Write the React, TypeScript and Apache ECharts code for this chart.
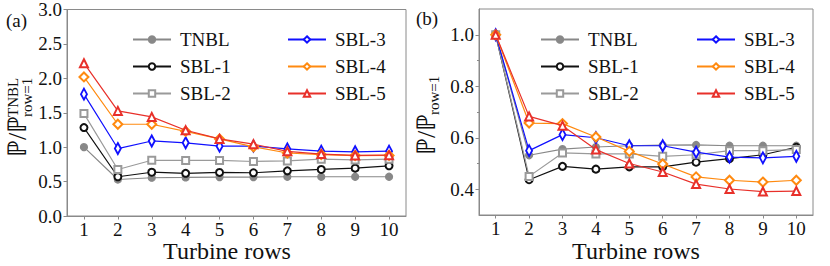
import React, { useEffect, useRef } from "react";
import * as echarts from "echarts";

const rows = ["1", "2", "3", "4", "5", "6", "7", "8", "9", "10"];

// Panel (a): P / P^TNBL_{row=1}
const tnblA = [1.0, 0.53, 0.556, 0.56, 0.565, 0.565, 0.57, 0.57, 0.57, 0.57];
const sbl1A = [1.285, 0.57, 0.636, 0.62, 0.633, 0.628, 0.656, 0.676, 0.695, 0.729];
const sbl2A = [1.488, 0.676, 0.81, 0.808, 0.808, 0.792, 0.8, 0.826, 0.815, 0.826];
const sbl3A = [1.77, 0.98, 1.09, 1.063, 1.015, 1.015, 0.975, 0.942, 0.933, 0.942];
const sbl4A = [2.02, 1.333, 1.333, 1.23, 1.12, 1.005, 0.915, 0.893, 0.878, 0.88];
const sbl5A = [2.22, 1.527, 1.44, 1.246, 1.12, 1.044, 0.94, 0.899, 0.88, 0.884];

// Panel (b): P / P_{row=1}
const tnblB = [1.0, 0.532, 0.556, 0.564, 0.569, 0.571, 0.572, 0.569, 0.569, 0.569];
const sbl1B = [1.0, 0.437, 0.489, 0.478, 0.487, 0.487, 0.505, 0.519, 0.534, 0.563];
const sbl2B = [1.0, 0.45, 0.541, 0.537, 0.537, 0.528, 0.534, 0.55, 0.55, 0.554];
const sbl3B = [1.0, 0.55, 0.612, 0.6, 0.569, 0.569, 0.544, 0.525, 0.522, 0.528];
const sbl4B = [1.0, 0.657, 0.655, 0.603, 0.547, 0.498, 0.448, 0.435, 0.428, 0.435];
const sbl5B = [1.0, 0.683, 0.647, 0.554, 0.5, 0.467, 0.42, 0.401, 0.391, 0.393];

const yTicksA = [0, 0.5, 1.0, 1.5, 2.0, 2.5, 3.0];
const yTicksB = [0.4, 0.6, 0.8, 1.0];
const yMinorB = [0.5, 0.7, 0.9];

const FONT = "Liberation Serif";
const SPINE = "#8a8a8a";
const TXT = "#111";

const styles: Record<string, any> = {
  TNBL: { color: "#888888", symbol: "circle", size: 7 },
  "SBL-1": { color: "#111111", symbol: "emptyCircle", size: 7 },
  "SBL-2": { color: "#9a9a9a", symbol: "emptyRect", size: 7 },
  "SBL-3": { color: "#1010ff", symbol: "emptyDiamond", size: [6, 11] },
  "SBL-4": { color: "#ff8a10", symbol: "emptyDiamond", size: 9 },
  "SBL-5": { color: "#e8302a", symbol: "emptyTriangle", size: 8 },
};

function mkSeries(name: string, data: number[], idx: number, z: number) {
  const s = styles[name];
  return {
    type: "line",
    name,
    data,
    xAxisIndex: idx,
    yAxisIndex: idx === 0 ? 0 : 1,
    symbol: s.symbol,
    symbolSize: s.size,
    z,
    lineStyle: { color: s.color, width: 1.2 },
    itemStyle: { color: s.color, borderColor: s.color, borderWidth: 1.2 },
    emphasis: { disabled: true },
  };
}

function legendCol(names: string[], left: number) {
  return {
    data: names,
    orient: "vertical",
    left,
    top: 25,
    itemWidth: 38,
    itemHeight: 8,
    itemGap: 8,
    selectedMode: false,
    textStyle: { fontFamily: FONT, fontSize: 19, color: TXT, lineHeight: 19, padding: [0, 0, 0, 4] },
  };
}

function xAxisCfg(gridIndex: number) {
  return {
    type: "category",
    gridIndex,
    data: rows,
    boundaryGap: true,
    axisLine: { show: true, lineStyle: { color: SPINE, width: 1 } },
    axisTick: { show: true, alignWithLabel: true, length: 3.5, lineStyle: { color: SPINE } },
    axisLabel: { fontFamily: FONT, fontSize: 19, color: TXT, margin: 4 },
    splitLine: { show: false },
  };
}

function txtStyle(text: string, size: number, align = "left") {
  return {
    text,
    fontFamily: FONT,
    fontSize: size,
    fill: TXT,
    align,
    textAlign: align,
    verticalAlign: "middle",
    textVerticalAlign: "middle",
  };
}

function yLabelGroup(x: number, y: number, sup: string | null, sub: string) {
  const children: any[] = [{ type: "text", x: 0, y: 0, style: txtStyle("ℙ/ℙ", 26) }];
  if (sup) {
    children.push({ type: "text", x: 40, y: -4, style: txtStyle(sup, 15) });
  }
  children.push({ type: "text", x: 40, y: sup ? 10 : 8, style: txtStyle(sub, 15) });
  return { type: "group", x, y, rotation: Math.PI / 2, children };
}

export default function App() {
  const ref = useRef<HTMLDivElement>(null);
  useEffect(() => {
    document.body.style.margin = "0";
    if (!ref.current) return;
    const chart = echarts.init(ref.current, null, { renderer: "svg" });
    const option: any = {
      animation: false,
      backgroundColor: "#ffffff",
      textStyle: { fontFamily: FONT },
      grid: [
        { left: 67, top: 9, width: 339, height: 207, show: true, borderColor: SPINE, borderWidth: 1, backgroundColor: "transparent" },
        { left: 479, top: 9, width: 334, height: 206, show: true, borderColor: SPINE, borderWidth: 1, backgroundColor: "transparent" },
      ],
      xAxis: [xAxisCfg(0), xAxisCfg(1)],
      yAxis: [
        {
          type: "value",
          gridIndex: 0,
          min: 0,
          max: 3,
          interval: 0.5,
          axisLine: { show: true, lineStyle: { color: SPINE } },
          axisTick: { show: true, length: 3.5, lineStyle: { color: SPINE } },
          axisLabel: { fontFamily: FONT, fontSize: 19, color: TXT, margin: 5, formatter: (v: number) => v.toFixed(1), customValues: yTicksA },
          splitLine: { show: false },
        },
        {
          type: "value",
          gridIndex: 1,
          position: "left",
          min: 0.3,
          max: 1.1,
          axisLine: { show: true, lineStyle: { color: SPINE } },
          axisTick: { show: true, length: 3.5, lineStyle: { color: SPINE }, customValues: yTicksB },
          axisLabel: { fontFamily: FONT, fontSize: 19, color: TXT, margin: 5, formatter: (v: number) => v.toFixed(1), customValues: yTicksB },
          splitLine: { show: false },
        },
        {
          type: "value",
          gridIndex: 1,
          position: "left",
          offset: 0,
          min: 0.3,
          max: 1.1,
          axisLine: { show: false },
          axisTick: { show: true, length: 2, lineStyle: { color: SPINE }, customValues: yMinorB },
          axisLabel: { show: false },
          splitLine: { show: false },
        },
      ],
      legend: [
        legendCol(["TNBL", "SBL-1", "SBL-2"], 127),
        legendCol(["SBL-3", "SBL-4", "SBL-5"], 282),
        legendCol(["TNBL", "SBL-1", "SBL-2"], 535),
        legendCol(["SBL-3", "SBL-4", "SBL-5"], 691),
      ],
      series: [
        mkSeries("TNBL", tnblA, 0, 2),
        mkSeries("SBL-1", sbl1A, 0, 3),
        mkSeries("SBL-2", sbl2A, 0, 4),
        mkSeries("SBL-3", sbl3A, 0, 5),
        mkSeries("SBL-4", sbl4A, 0, 6),
        mkSeries("SBL-5", sbl5A, 0, 7),
        mkSeries("TNBL", tnblB, 1, 2),
        mkSeries("SBL-1", sbl1B, 1, 3),
        mkSeries("SBL-2", sbl2B, 1, 4),
        mkSeries("SBL-3", sbl3B, 1, 5),
        mkSeries("SBL-4", sbl4B, 1, 6),
        mkSeries("SBL-5", sbl5B, 1, 7),
      ],
      graphic: [
        { type: "text", x: 6, y: 20, style: txtStyle("(a)", 19) },
        { type: "text", x: 416, y: 18, style: txtStyle("(b)", 19) },
        { type: "text", x: 227, y: 251, style: txtStyle("Turbine rows", 24, "center") },
        { type: "text", x: 636, y: 251, style: txtStyle("Turbine rows", 24, "center") },
        yLabelGroup(17, 157, "TNBL", "row=1"),
        yLabelGroup(426, 155, null, "row=1"),
      ],
    };
    chart.setOption(option);
    return () => chart.dispose();
  }, []);
  return <div ref={ref} style={{ width: 830, height: 266 }} />;
}
